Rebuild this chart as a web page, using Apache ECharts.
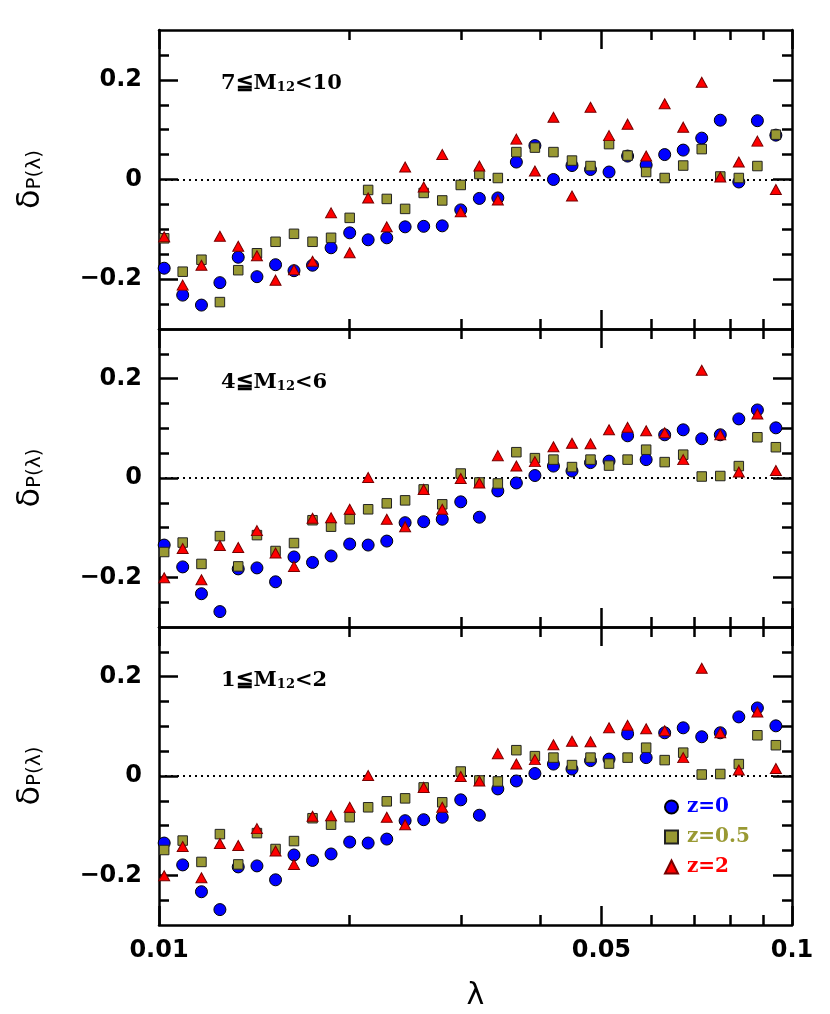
<!DOCTYPE html>
<html>
<head>
<meta charset="utf-8">
<script src="https://cdn.jsdelivr.net/npm/echarts@6/dist/echarts.min.js"></script>
<style>
  html, body { margin: 0; padding: 0; background: #fff; }
  #chart { width: 830px; height: 1014px; }
</style>
</head>
<body>
<div id="chart"></div>
<script>
// lambda bin centres (log spaced)
const lambda = [0.01019, 0.01090, 0.01167, 0.01248, 0.01334, 0.01428, 0.01528, 0.01634, 0.01748, 0.01870,
  0.02001, 0.02140, 0.02290, 0.02448, 0.02619, 0.02802, 0.02997, 0.03207, 0.03430, 0.03669,
  0.03925, 0.04199, 0.04492, 0.04805, 0.05140, 0.05499, 0.05883, 0.06293, 0.06732, 0.07201,
  0.07704, 0.08241, 0.08817, 0.09430];

// 7 <= M12 < 10
const highZ0 = [-0.178, -0.232, -0.252, -0.207, -0.156, -0.195, -0.171, -0.183, -0.172, -0.137,
  -0.107, -0.121, -0.117, -0.095, -0.094, -0.093, -0.061, -0.038, -0.037, 0.035,
  0.068, 0.000, 0.028, 0.020, 0.015, 0.047, 0.029, 0.050, 0.059, 0.083,
  0.119, -0.005, 0.118, 0.089];
const highZ05 = [-0.118, -0.185, -0.161, -0.246, -0.182, -0.148, -0.125, -0.109, -0.125, -0.117,
  -0.077, -0.021, -0.039, -0.059, -0.027, -0.042, -0.011, 0.011, 0.003, 0.055,
  0.064, 0.055, 0.038, 0.027, 0.071, 0.048, 0.015, 0.003, 0.028, 0.061,
  0.006, 0.003, 0.027, 0.090];
const highZ2 = [-0.115, -0.212, -0.172, -0.114, -0.134, -0.153, -0.202, -0.181, -0.164, -0.067,
  -0.147, -0.037, -0.095, 0.025, -0.015, 0.050, -0.065, 0.027, -0.041, 0.081,
  0.017, 0.125, -0.033, 0.145, 0.088, 0.111, 0.047, 0.152, 0.105, 0.195,
  0.005, 0.035, 0.077, -0.020];

// 4 <= M12 < 6
const midZ0 = [-0.135, -0.179, -0.233, -0.269, -0.183, -0.181, -0.209, -0.159, -0.170, -0.157,
  -0.133, -0.135, -0.127, -0.090, -0.088, -0.083, -0.048, -0.079, -0.026, -0.010,
  0.005, 0.024, 0.014, 0.031, 0.034, 0.085, 0.037, 0.087, 0.097, 0.079,
  0.087, 0.119, 0.137, 0.101];
const midZ05 = [-0.149, -0.130, -0.173, -0.117, -0.178, -0.115, -0.147, -0.131, -0.085, -0.098,
  -0.083, -0.063, -0.051, -0.045, -0.023, -0.053, 0.009, -0.009, -0.011, 0.052,
  0.040, 0.037, 0.022, 0.037, 0.025, 0.037, 0.057, 0.032, 0.047, 0.003,
  0.004, 0.024, 0.082, 0.062];
const midZ2 = [-0.201, -0.142, -0.205, -0.136, -0.140, -0.106, -0.151, -0.178, -0.081, -0.080,
  -0.063, 0.001, -0.083, -0.098, -0.023, -0.063, -0.001, -0.010, 0.045, 0.024,
  0.033, 0.063, 0.070, 0.069, 0.097, 0.102, 0.095, 0.091, 0.037, 0.217,
  0.087, 0.012, 0.129, 0.015];

// 1 <= M12 < 2 (the plotted points match the middle panel)
const lowZ0 = [...midZ0];
const lowZ05 = [...midZ05];
const lowZ2 = [...midZ2];

const panelData = [
  [highZ0, highZ05, highZ2],
  [midZ0, midZ05, midZ2],
  [lowZ0, lowZ05, lowZ2],
];
const massBins = [['7', '10'], ['4', '6'], ['1', '2']];
const seriesNames = ['z=0', 'z=0.5', 'z=2'];

const xMajorTicks = [0.01, 0.05, 0.1];
const xMinorTicks = [0.02, 0.03, 0.04, 0.06, 0.07, 0.08, 0.09];
const yMajorTicks = [-0.2, 0, 0.2];
const yMinorTicks = [-0.25, -0.15, -0.1, -0.05, 0.05, 0.1, 0.15, 0.25];

const panelTop = [30, 329, 627];
const panelHeight = [299, 298, 298];

const colors = ['#0000ff', '#999933', '#ff0000'];
const symbols = ['circle', 'rect', 'triangle'];
const symbolSizes = [12, 9.5, [11, 10]];
const borderColors = ['#000', '#222', '#700'];

const black = '#000';
const lw = 2.5;
const labelFont = { fontFamily: 'DejaVu Sans', fontWeight: 'bold', fontSize: 24, color: black };

const fmtY = (v) => {
  if (Math.abs(v) < 1e-9) return '0';
  return (v < 0 ? '\u2212' : '') + Math.abs(v).toFixed(1);
};

const makeX = (g, position, ticks, len, withLine, withLabels) => ({
  type: 'log',
  logBase: 10,
  min: 0.01,
  max: 0.1,
  gridIndex: g,
  position: position,
  splitLine: { show: false },
  axisLine: { show: withLine, onZero: false, lineStyle: { color: black, width: lw } },
  axisTick: { show: true, inside: true, length: len, customValues: ticks, lineStyle: { color: black, width: lw } },
  axisLabel: withLabels
    ? { show: true, customValues: xMajorTicks, margin: 14, ...labelFont, formatter: (v) => String(+(+v).toFixed(2)) }
    : { show: false },
  name: withLabels ? 'λ' : '',
  nameLocation: 'middle',
  nameGap: 56,
  nameTextStyle: { fontFamily: 'DejaVu Sans', fontSize: 30, color: black },
});

const makeY = (g, position, ticks, len, withLine, withLabels) => ({
  type: 'value',
  min: -0.3,
  max: 0.3,
  gridIndex: g,
  position: position,
  splitLine: { show: false },
  axisLine: { show: withLine, onZero: false, lineStyle: { color: black, width: lw } },
  axisTick: { show: true, inside: true, length: len, customValues: ticks, lineStyle: { color: black, width: lw } },
  axisLabel: withLabels
    ? { show: true, customValues: yMajorTicks, margin: 17, ...labelFont, formatter: fmtY }
    : { show: false },
  name: withLabels ? '{d|δ}{p|P(λ)}' : '',
  nameLocation: 'middle',
  nameGap: 114,
  nameTextStyle: {
    rich: {
      d: { fontFamily: 'DejaVu Sans', fontSize: 32, color: black, verticalAlign: 'top', lineHeight: 30 },
      p: { fontFamily: 'DejaVu Sans', fontSize: 20, color: black, verticalAlign: 'bottom', lineHeight: 20, padding: [16, 0, 0, 0] },
    },
  },
});

const grids = [];
const xAxes = [];
const yAxes = [];
const series = [];
const titles = [];

for (let g = 0; g < 3; g++) {
  grids.push({ left: 159, right: 38, top: panelTop[g], height: panelHeight[g] });

  const isLast = g === 2;
  xAxes.push(makeX(g, 'bottom', xMajorTicks, 19, true, isLast));
  xAxes.push(makeX(g, 'bottom', xMinorTicks, 10, false, false));
  xAxes.push(makeX(g, 'top', xMajorTicks, 19, true, false));
  xAxes.push(makeX(g, 'top', xMinorTicks, 10, false, false));

  yAxes.push(makeY(g, 'left', yMajorTicks, 19, true, true));
  yAxes.push(makeY(g, 'left', yMinorTicks, 10, false, false));
  yAxes.push(makeY(g, 'right', yMajorTicks, 19, true, false));
  yAxes.push(makeY(g, 'right', yMinorTicks, 10, false, false));

  panelData[g].forEach((vals, k) => {
    series.push({
      name: seriesNames[k],
      type: 'scatter',
      xAxisIndex: g * 4,
      yAxisIndex: g * 4,
      symbol: symbols[k],
      symbolSize: symbolSizes[k],
      symbolKeepAspect: true,
      itemStyle: { color: colors[k], borderColor: borderColors[k], borderWidth: 1, opacity: 1 },
      silent: true,
      z: 3 + k,
      data: lambda.map((x, i) => [x, vals[i]]),
      markLine: k === 0 ? {
        silent: true,
        symbol: 'none',
        z: 1,
        label: { show: false },
        lineStyle: { color: black, width: 2, type: [2, 4] },
        data: [{ yAxis: 0 }],
      } : undefined,
    });
  });

  const b = massBins[g];
  titles.push({
    text: `{a|${b[0]}≦M}{s|12}{a|<${b[1]}}`,
    left: 221,
    top: panelTop[g] + 43,
    padding: 0,
    textStyle: {
      rich: {
        a: { fontFamily: 'DejaVu Serif', fontWeight: 'bold', fontSize: 21, color: black, verticalAlign: 'top', lineHeight: 21 },
        s: { fontFamily: 'DejaVu Serif', fontWeight: 'bold', fontSize: 13, color: black, verticalAlign: 'bottom', lineHeight: 13, padding: [19, 0, 0, 0] },
      },
    },
  });
}

const chart = echarts.init(document.getElementById('chart'), null, { renderer: 'canvas' });
chart.setOption({
  animation: false,
  backgroundColor: '#fff',
  title: titles,
  grid: grids,
  xAxis: xAxes,
  yAxis: yAxes,
  legend: {
    orient: 'vertical',
    left: 659,
    top: 792,
    itemWidth: 13,
    itemHeight: 13,
    itemGap: 10,
    selectedMode: false,
    symbolKeepAspect: true,
    textStyle: { fontFamily: 'DejaVu Serif', fontWeight: 'bold', fontSize: 20, lineHeight: 20, padding: [0, 0, 0, 4] },
    data: seriesNames.map((n, k) => ({ name: n, textStyle: { color: colors[k] } })),
  },
  series: series,
});
</script>
</body>
</html>
